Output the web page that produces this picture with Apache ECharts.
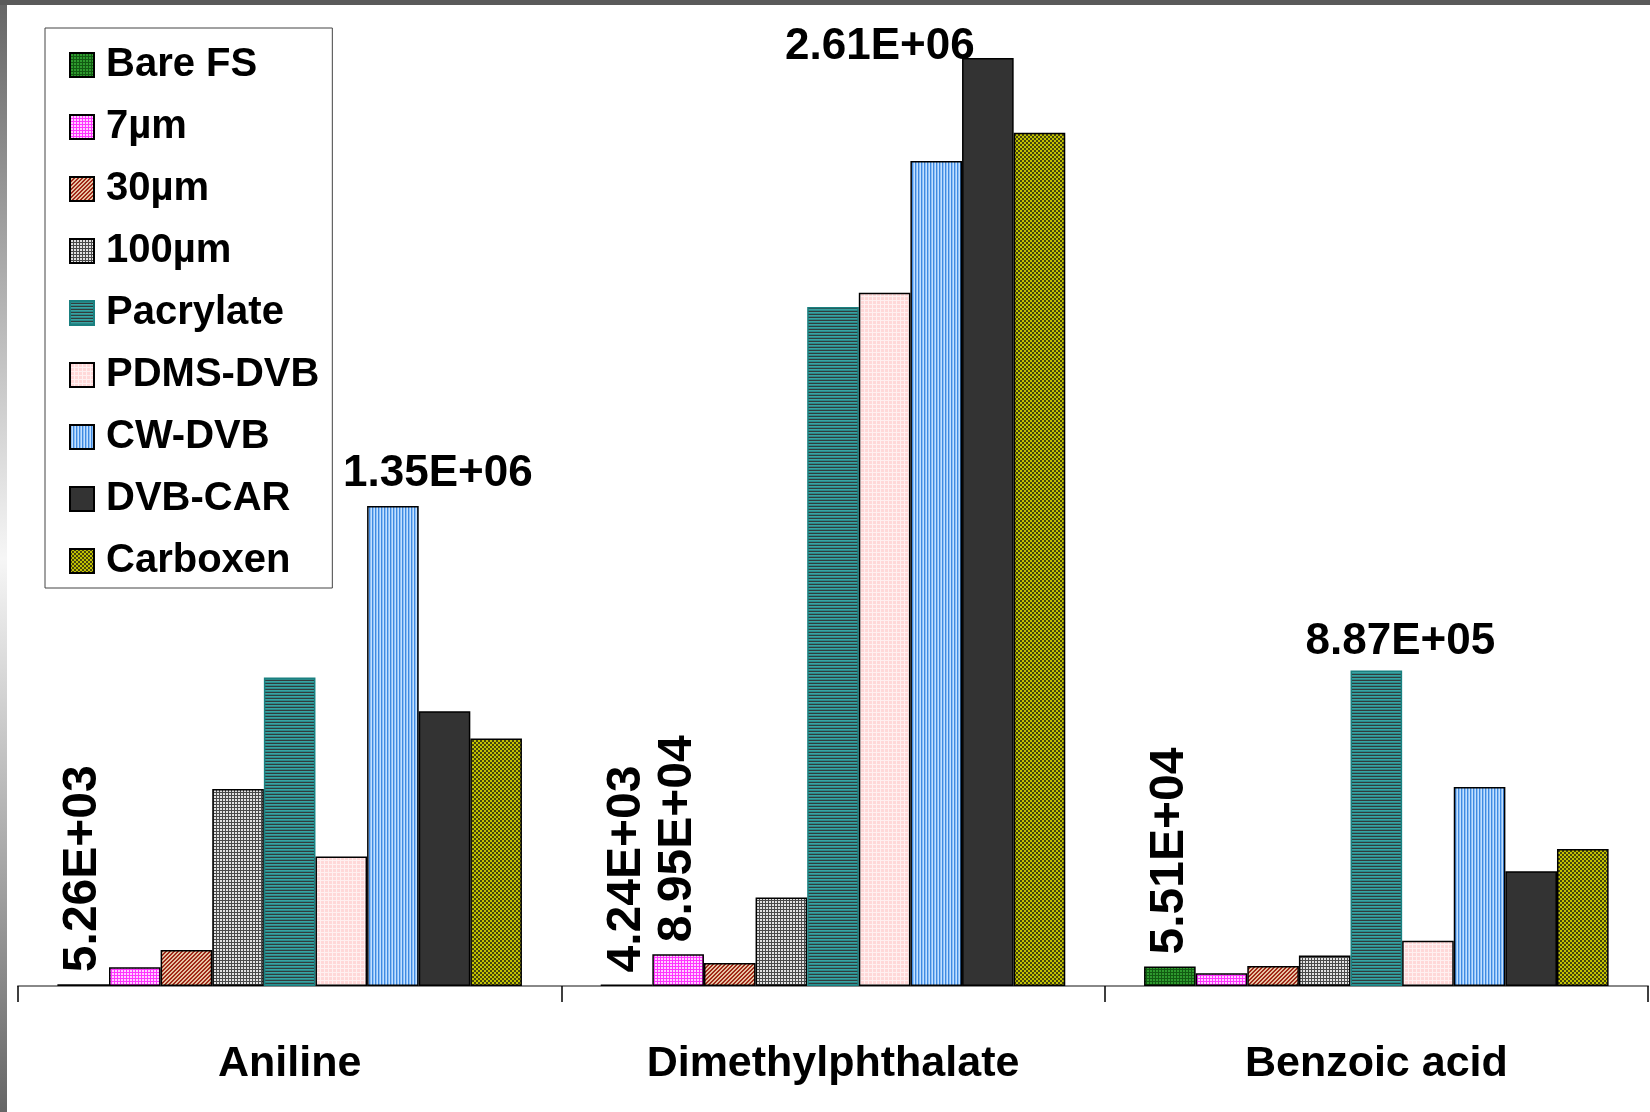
<!DOCTYPE html>
<html>
<head>
<meta charset="utf-8">
<script src="https://cdn.jsdelivr.net/npm/echarts@6/dist/echarts.min.js"></script>
<style>
  html, body { margin: 0; padding: 0; background: #fff; }
  #main { width: 1650px; height: 1112px; }
</style>
</head>
<body>
<div id="main"></div>
<script>
// categories and series values (peak area)
const categories = ['Aniline', 'Dimethylphthalate', 'Benzoic acid'];
const fiberNames = ['Bare FS', '7µm', '30µm', '100µm', 'Pacrylate', 'PDMS-DVB', 'CW-DVB', 'DVB-CAR', 'Carboxen'];
const bareFS = [5.26e3, 4.24e3, 5.51e4];
const pdms7 = [5.3e4, 8.95e4, 3.6e4];
const pdms30 = [1.01e5, 6.5e4, 5.6e4];
const pdms100 = [5.54e5, 2.49e5, 8.6e4];
const pacrylate = [8.68e5, 1.91e6, 8.87e5];
const pdmsDvb = [3.64e5, 1.95e6, 1.27e5];
const cwDvb = [1.35e6, 2.32e6, 5.6e5];
const dvbCar = [7.73e5, 2.61e6, 3.23e5];
const carboxen = [6.96e5, 2.40e6, 3.85e5];

const FONT = '"Liberation Sans", Arial, sans-serif';

// small canvas tiles used as fill patterns
function tile(w, h, paint) {
  const c = document.createElement('canvas');
  c.width = w; c.height = h;
  paint(c.getContext('2d'));
  return { image: c, repeat: 'repeat' };
}
function gridTile(size, bg, line) {
  return tile(size, size, g => {
    g.fillStyle = bg; g.fillRect(0, 0, size, size);
    g.fillStyle = line; g.fillRect(0, 0, size, 1); g.fillRect(0, 0, 1, size);
  });
}
function stripes(horizontal, cols) {
  const n = cols.length;
  return tile(horizontal ? 1 : n, horizontal ? n : 1, g => {
    cols.forEach((c, i) => {
      g.fillStyle = c;
      if (horizontal) g.fillRect(0, i, 1, 1); else g.fillRect(i, 0, 1, 1);
    });
  });
}
function diag(size, bg, fg, test) {
  return tile(size, size, g => {
    for (let y = 0; y < size; y++) for (let x = 0; x < size; x++) {
      g.fillStyle = test(x, y) ? fg : bg; g.fillRect(x, y, 1, 1);
    }
  });
}

const fills = [
  gridTile(3, '#2e9a2e', '#125a12'),
  gridTile(3, '#ffcfff', '#ff33ff'),
  diag(4, '#e6c4a4', '#a02818', (x, y) => (x + y) % 4 < 2),
  gridTile(3, '#e2e2e2', '#4a4a4a'),
  stripes(true, ['#3aa2a2', '#2a8a8a', '#323c3c']),
  gridTile(4, '#ffd8d8', '#fff0f0'),
  stripes(false, ['#3f8ae2', '#8ec0f4', '#c4e0ff']),
  '#333333',
  diag(4, '#c2c200', '#44440e', (x, y) => (Math.floor(x / 2) + Math.floor(y / 2)) % 2 === 0)
];
const borders = ['#000', '#000', '#000', '#000', '#1a8080', '#000', '#000', '#000', '#000'];

function sci(p) {
  const [m, e] = Number(p.value).toExponential(2).split('e');
  return m + 'E' + e[0] + e.slice(1).padStart(2, '0');
}
const vLabel = { show: true, position: 'top', rotate: 90, align: 'left', verticalAlign: 'middle', distance: 12, fontSize: 48 };
function hLabel(dx, dist) {
  return { show: true, position: 'top', distance: dist, offset: [dx, 0], fontSize: 44 };
}

// which bars carry a value label: series index -> {category index: label}
const labelled = {
  0: { 0: vLabel, 1: vLabel, 2: vLabel },
  1: { 1: vLabel },
  4: { 2: hLabel(24, 7) },
  6: { 0: hLabel(45, 10) },
  7: { 1: hLabel(-108, -11) }
};

const allValues = [bareFS, pdms7, pdms30, pdms100, pacrylate, pdmsDvb, cwDvb, dvbCar, carboxen];

const series = allValues.map((vals, s) => ({
  name: fiberNames[s],
  type: 'bar',
  barGap: '0%',
  barCategoryGap: '14.5%',
  itemStyle: { color: fills[s], borderColor: borders[s], borderWidth: 1.5 },
  label: { show: false, color: '#000', fontWeight: 'bold', fontFamily: FONT, formatter: sci },
  data: vals.map((v, i) => (labelled[s] && labelled[s][i]) ? { value: v, label: labelled[s][i] } : v)
}));

const chart = echarts.init(document.getElementById('main'));
chart.setOption({
  animation: false,
  backgroundColor: '#fff',
  graphic: [
    { type: 'rect', z: 100, shape: { x: 0, y: 0, width: 1650, height: 5 }, style: { fill: '#5a5a5a' } },
    {
      type: 'rect', z: 100, shape: { x: 0, y: 5, width: 7, height: 1107 },
      style: {
        fill: new echarts.graphic.LinearGradient(0, 0, 0, 1, [
          { offset: 0, color: '#666' },
          { offset: 0.5, color: '#f6f6f6' },
          { offset: 1, color: '#666' }
        ])
      }
    }
  ],
  legend: {
    orient: 'vertical',
    left: 45,
    top: 28,
    padding: [17, 13, 7, 24],
    borderColor: '#444',
    borderWidth: 1,
    itemWidth: 24,
    itemHeight: 24,
    itemGap: 22,
    icon: 'rect',
    textStyle: { fontSize: 40, fontWeight: 'bold', color: '#000', fontFamily: FONT, lineHeight: 40, padding: [0, 0, 0, 7] },
    data: fiberNames
  },
  grid: { left: 18, right: 2, top: 26, bottom: 126 },
  xAxis: {
    type: 'category',
    data: categories,
    axisLine: { lineStyle: { color: '#888', width: 2 } },
    axisTick: { show: true, length: 16, lineStyle: { color: '#000', width: 1.5 } },
    axisLabel: { fontSize: 43, fontWeight: 'bold', color: '#000', fontFamily: FONT, margin: 57 }
  },
  yAxis: { type: 'value', min: 0, max: 2.7e6, show: false },
  series: series
});
</script>
</body>
</html>
